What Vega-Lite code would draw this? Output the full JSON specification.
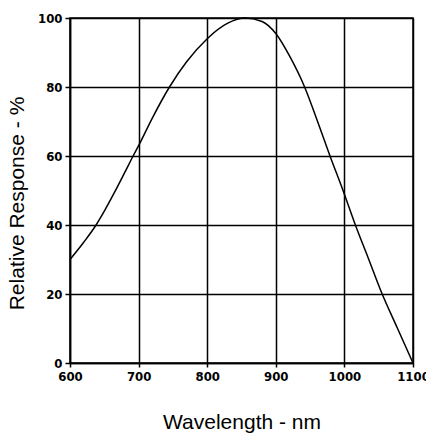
{
  "$schema": "https://vega.github.io/schema/vega-lite/v6.json",
  "width": 343,
  "height": 345,
  "autosize": {"type": "none"},
  "padding": {"left": 70, "top": 18, "right": 13, "bottom": 77},
  "background": "white",
  "config": {"view": {"stroke": "black", "strokeWidth": 1.5}},
  "data": {"values": [
    {"wl": 600, "r": 30}, {"wl": 620, "r": 35}, {"wl": 638, "r": 40}, {"wl": 650, "r": 44},
    {"wl": 665, "r": 49.5}, {"wl": 680, "r": 55.3}, {"wl": 692, "r": 60}, {"wl": 700, "r": 63},
    {"wl": 720, "r": 71}, {"wl": 745, "r": 80}, {"wl": 770, "r": 87.3}, {"wl": 800, "r": 94},
    {"wl": 830, "r": 98.5}, {"wl": 855, "r": 100}, {"wl": 880, "r": 99}, {"wl": 900, "r": 95.5},
    {"wl": 920, "r": 89}, {"wl": 942, "r": 80}, {"wl": 960, "r": 70.5}, {"wl": 979, "r": 60},
    {"wl": 998, "r": 50}, {"wl": 1016, "r": 40}, {"wl": 1035, "r": 30.3},
    {"wl": 1054, "r": 20.5}, {"wl": 1077, "r": 10.2}, {"wl": 1100, "r": 0}
  ]},
  "mark": {"type": "line", "interpolate": "monotone", "color": "black", "strokeWidth": 1.5},
  "encoding": {
    "x": {"field": "wl", "type": "quantitative",
      "scale": {"domain": [600, 1100], "nice": false, "zero": false},
      "axis": {"values": [600, 700, 800, 900, 1000, 1100], "format": "d", "title": "Wavelength - nm",
        "grid": true, "gridColor": "black", "gridWidth": 1.5, "gridOpacity": 1,
        "domainColor": "black", "domainWidth": 1.5, "tickColor": "black", "tickSize": 4, "tickWidth": 1.5,
        "labelFont": "DejaVu Sans Condensed, Liberation Sans", "labelFontSize": 13, "labelFontWeight": "bold", "labelColor": "black", "labelPadding": 3,
        "labelFlush": false,
        "titleFont": "Liberation Sans", "titleFontSize": 21, "titleFontWeight": "normal", "titleColor": "black", "titlePadding": 28}},
    "y": {"field": "r", "type": "quantitative",
      "scale": {"domain": [0, 100], "nice": false},
      "axis": {"values": [0, 20, 40, 60, 80, 100], "format": "d", "title": "Relative Response - %",
        "grid": true, "gridColor": "black", "gridWidth": 1.5, "gridOpacity": 1,
        "domainColor": "black", "domainWidth": 1.5, "tickColor": "black", "tickSize": 5, "tickWidth": 1.5,
        "labelFont": "DejaVu Sans Condensed, Liberation Sans", "labelFontSize": 13, "labelFontWeight": "bold", "labelColor": "black", "labelPadding": 3,
        "labelFlush": false,
        "titleFont": "Liberation Sans", "titleFontSize": 21, "titleFontWeight": "normal", "titleColor": "black", "titlePadding": 10, "titleY": 185}}
  }
}
